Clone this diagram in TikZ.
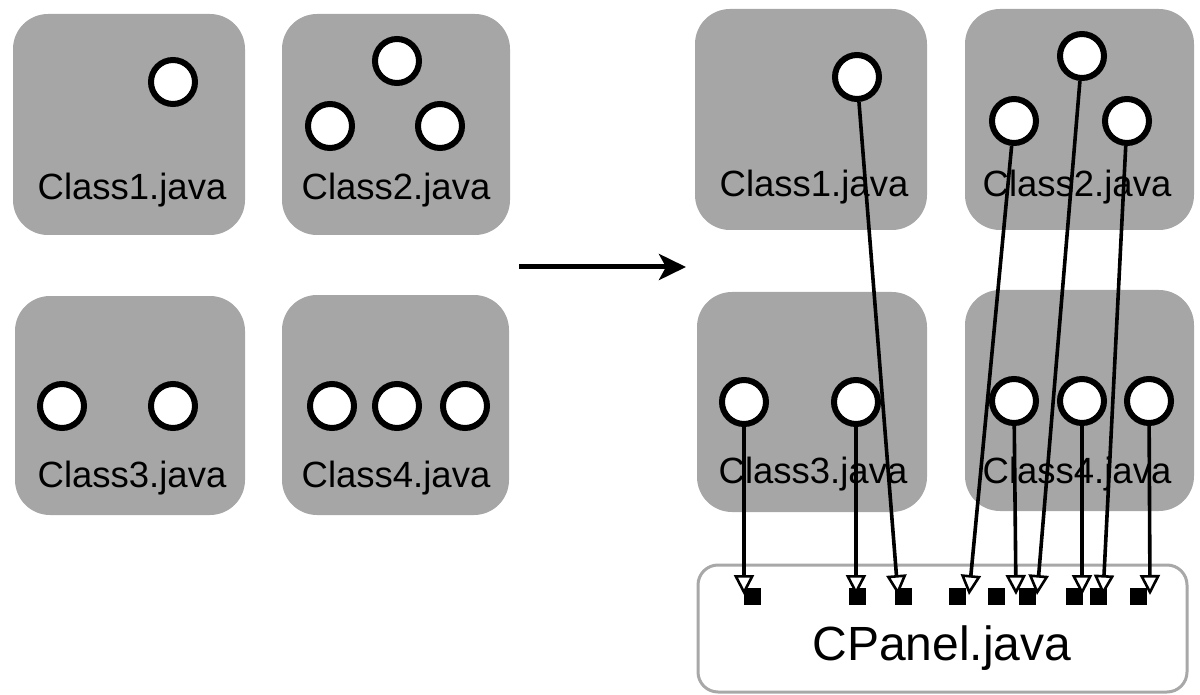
\documentclass[tikz,border=0pt]{standalone}
\usepackage{fontspec}
\setmainfont{Liberation Sans}
\usetikzlibrary{arrows.meta}
\definecolor{boxgray}{RGB}{166,166,166}
\definecolor{framegray}{RGB}{168,168,168}
\tikzset{
  classbox/.style={draw=none, fill=boxgray, rounded corners=35pt},
  classlabel/.style={anchor=base, inner sep=0pt, font=\fontsize{36.5}{40}\selectfont},
  member/.style={circle, draw=black, fill=white, line width=6pt, minimum size=44pt, inner sep=0pt},
  port/.style={rectangle, fill=black, minimum size=17pt, inner sep=0pt},
  conn/.style={line width=3.6pt, -{Triangle[open, fill=white, length=20pt, width=20pt, line width=2.6pt]}},
  bigarrow/.style={line width=5pt, -{Stealth[length=27pt, width=26pt, inset=7pt]}},
}
\begin{document}
\begin{tikzpicture}[x=1pt, y=-1pt]
\useasboundingbox (0,0) rectangle (1200,695);

% ---------- left (before) ----------
\path[classbox] (13,14) rectangle (245,235);
\path[classbox] (282,14) rectangle (510,235);
\path[classbox] (15,296) rectangle (245,515);
\path[classbox] (282,295) rectangle (509,515);

\node[classlabel] (l1) at (132,200) {Class1.java};
\node[classlabel] (l2) at (396,200) {Class2.java};
\node[classlabel] (l3) at (132,487) {Class3.java};
\node[classlabel] (l4) at (396,487) {Class4.java};

\node[member] (a1) at (173,82) {};
\node[member] (a2a) at (397,61) {};
\node[member] (a2b) at (330,126) {};
\node[member] (a2c) at (440,126) {};
\node[member] (a3a) at (62,406) {};
\node[member] (a3b) at (173,406) {};
\node[member] (a4a) at (332,406) {};
\node[member] (a4b) at (397,406) {};
\node[member] (a4c) at (465,406) {};

% ---------- transformation arrow ----------
\coordinate (arrS) at (519,267);
\coordinate (arrE) at (686,267);
\draw[bigarrow] (arrS) -- (arrE);

% ---------- right (after) ----------
\path[classbox] (695,9) rectangle (927,230);
\path[classbox] (965,9) rectangle (1194,230);
\path[classbox] (697,292) rectangle (927,512);
\path[classbox] (965,290) rectangle (1194,511);

\node[classlabel] (r1) at (814,197) {Class1.java};
\node[classlabel] (r2) at (1077,197) {Class2.java};
\node[classlabel] (r3) at (813,483) {Class3.java};
\node[classlabel] (r4) at (1077,483) {Class4.java};

\node[member] (b1) at (857,77) {};
\node[member] (b2a) at (1082,56) {};
\node[member] (b2b) at (1014,121) {};
\node[member] (b2c) at (1127,121) {};
\node[member] (b3a) at (744,402) {};
\node[member] (b3b) at (856,402) {};
\node[member] (b4a) at (1014,401) {};
\node[member] (b4b) at (1082,401) {};
\node[member] (b4c) at (1149,401) {};

% CPanel
\draw[draw=framegray, line width=3pt, rounded corners=20pt, fill=white] (698,565) rectangle (1187,692);
\node[anchor=base, inner sep=0pt, font=\fontsize{48}{52}\selectfont] (cp) at (942,660) {CPanel.java};

\node[port] (p1) at (752,596) {};
\node[port] (p2) at (857,596) {};
\node[port] (p3) at (903,596) {};
\node[port] (p4) at (957,596) {};
\node[port] (p5) at (996,596) {};
\node[port] (p6) at (1027,596) {};
\node[port] (p7) at (1074,596) {};
\node[port] (p8) at (1098,596) {};
\node[port] (p9) at (1138,596) {};

\coordinate (t1) at (744,595);
\coordinate (t2) at (856,595);
\coordinate (t3) at (898,595);
\coordinate (t4) at (969,595);
\coordinate (t5) at (1016,595);
\coordinate (t6) at (1037,595);
\coordinate (t7) at (1082,595);
\coordinate (t8) at (1103,595);
\coordinate (t9) at (1150,595);

\draw[conn] (b3a) -- (t1);
\draw[conn] (b3b) -- (t2);
\draw[conn] (b1) -- (t3);
\draw[conn] (b2b) -- (t4);
\draw[conn] (b4a) -- (t5);
\draw[conn] (b2a) -- (t6);
\draw[conn] (b4b) -- (t7);
\draw[conn] (b2c) -- (t8);
\draw[conn] (b4c) -- (t9);
\end{tikzpicture}
\end{document}
